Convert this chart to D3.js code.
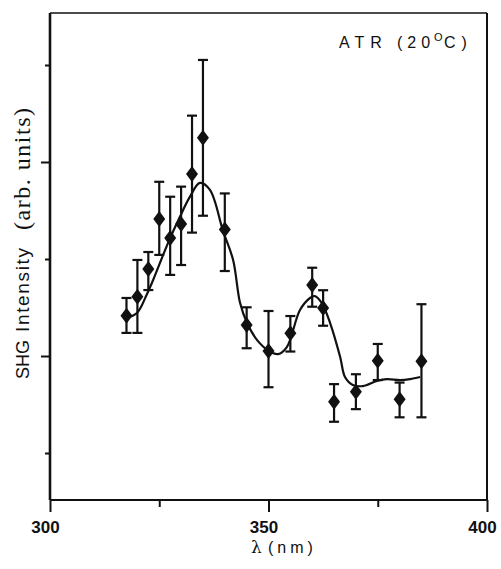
<!DOCTYPE html>
<html><head><meta charset="utf-8">
<script src="https://cdn.jsdelivr.net/npm/d3@7"></script>
<style>body{margin:0;background:#fff}svg{display:block}</style>
</head><body>
<div id="chart"></div>
<script>
// Measured data: wavelength (nm), SHG intensity (arb. units), error bar low/high
const wavelengths = [317.5,320,322.5,325,327.5,330,332.5,335,340,345,350,355,360,362.5,365,370,375,380,385];
const intensity   = [1.208,1.306,1.448,1.706,1.608,1.680,1.938,2.125,1.652,1.160,1.026,1.117,1.366,1.248,0.764,0.816,0.975,0.777,0.973];
const errLow      = [1.119,1.119,1.340,1.521,1.418,1.469,1.636,1.723,1.438,1.040,0.839,1.023,1.254,1.156,0.661,0.726,0.876,0.684,0.684];
const errHigh     = [1.299,1.495,1.536,1.898,1.821,1.873,2.239,2.526,1.838,1.251,1.232,1.206,1.455,1.339,0.855,0.906,1.062,0.863,1.267];
// Fitted curve
const fitX = [317.4,319.9,322.2,323.6,327.0,329.7,332.0,334.3,336.6,339.6,341.9,343.5,345.1,347.4,350.1,352.2,354.2,357.2,359.5,360.6,362.2,364.1,366.4,367.5,369.3,371.6,374.8,377.1,380.1,382.4,384.7];
const fitY = [1.196,1.222,1.320,1.392,1.582,1.716,1.820,1.892,1.856,1.644,1.495,1.273,1.170,1.082,1.026,1.010,1.046,1.237,1.299,1.309,1.273,1.170,0.995,0.892,0.851,0.845,0.871,0.881,0.876,0.881,0.892];
// Axis ticks
const xMajorTicks = [300,350,400];
const xMinorTicks = [325,375];
const yMajorTicks = [1,2];
const yMinorTicks = [0.5,1.5,2.5];

const W = 501, H = 569;
const L = 50, R = 487, T = 13, B = 500;
const svg = d3.select("#chart").append("svg").attr("width",W).attr("height",H);

const x = d3.scaleLinear().domain([300,400]).range([L,R]);
const y = d3.scaleLinear().domain([1,2]).range([356,162]);

const ink = "#111";
const sans = "'Liberation Sans', Arial, Helvetica, sans-serif";
const serif = "'Liberation Serif', 'Times New Roman', serif";

// frame
svg.append("line").attr("x1",L).attr("x2",R).attr("y1",T).attr("y2",T).attr("stroke",ink).attr("stroke-width",1.6);
svg.append("line").attr("x1",R).attr("x2",R).attr("y1",T).attr("y2",B).attr("stroke",ink).attr("stroke-width",2);

// axes
const gx = svg.append("g").attr("transform",`translate(0,${B})`);
gx.call(d3.axisBottom(x).tickValues(xMajorTicks).tickSize(12).tickFormat(d3.format("d")));
const gx2 = svg.append("g").attr("transform",`translate(0,${B})`);
gx2.call(d3.axisBottom(x).tickValues(xMinorTicks).tickSize(7).tickFormat(""));
const gy = svg.append("g").attr("transform",`translate(${L},0)`);
gy.call(d3.axisLeft(y).tickValues(yMajorTicks).tickSize(9).tickFormat(""));
const gy2 = svg.append("g").attr("transform",`translate(${L},0)`);
gy2.call(d3.axisLeft(y).tickValues(yMinorTicks).tickSize(5).tickFormat(""));
[gx,gx2,gy,gy2].forEach(g=>{
  g.select(".domain").remove();
  g.selectAll(".tick line").attr("stroke",ink).attr("stroke-width",2);
});
gx.selectAll(".tick text").attr("font-family",sans)
  .attr("font-size",17).attr("font-weight","bold").attr("fill",ink)
  .attr("y",33).attr("dy",0).attr("dx",-5);
svg.append("line").attr("x1",L).attr("x2",R).attr("y1",B).attr("y2",B).attr("stroke",ink).attr("stroke-width",2.2);
svg.append("line").attr("x1",L).attr("x2",L).attr("y1",T).attr("y2",B).attr("stroke",ink).attr("stroke-width",2.6);

// fit curve
const pts = fitX.map((d,i)=>[d,fitY[i]]);
svg.append("path").datum(pts)
  .attr("d", d3.line().x(d=>x(d[0])).y(d=>y(d[1])).curve(d3.curveCatmullRom.alpha(0.5)))
  .attr("fill","none").attr("stroke",ink).attr("stroke-width",2.2);

// error bars
const data = wavelengths.map((w,i)=>({w, v:intensity[i], lo:errLow[i], hi:errHigh[i]}));
const eb = svg.append("g").attr("stroke",ink).attr("stroke-width",2.2);
data.forEach(d=>{
  eb.append("line").attr("x1",x(d.w)).attr("x2",x(d.w)).attr("y1",y(d.lo)).attr("y2",y(d.hi));
  eb.append("line").attr("x1",x(d.w)-5).attr("x2",x(d.w)+5).attr("y1",y(d.lo)).attr("y2",y(d.lo));
  eb.append("line").attr("x1",x(d.w)-5).attr("x2",x(d.w)+5).attr("y1",y(d.hi)).attr("y2",y(d.hi));
});
// diamonds
svg.append("g").selectAll("path").data(data).join("path")
  .attr("d", d=>{const cx=x(d.w), cy=y(d.v), a=6, b=8; return `M${cx},${cy-b}L${cx+a},${cy}L${cx},${cy+b}L${cx-a},${cy}Z`;})
  .attr("fill",ink);

// annotation
const annG = svg.append("g").attr("font-family",sans).attr("fill",ink);
annG.append("text").attr("x",339).attr("y",48).attr("font-size",16).attr("letter-spacing","6px").text("ATR");
annG.append("text").attr("x",397).attr("y",48).attr("font-size",16).attr("letter-spacing","5px").text("(20");
annG.append("text").attr("x",434).attr("y",41).attr("font-size",11).text("O");
annG.append("text").attr("x",444).attr("y",48).attr("font-size",16).attr("letter-spacing","6px").text("C)");

// y label (rotated)
const ylab = svg.append("g").attr("transform","rotate(-90)").attr("fill",ink);
ylab.append("text").attr("x",-379).attr("y",29).attr("font-family",sans).attr("font-size",18).text("SHG");
ylab.append("text").attr("x",-332).attr("y",29).attr("font-family",sans).attr("font-size",19)
  .attr("textLength",84).attr("lengthAdjust","spacing").text("Intensity");
ylab.append("text").attr("x",-230).attr("y",30).attr("font-family",serif).attr("font-size",24)
  .attr("textLength",122).attr("lengthAdjust","spacing").text("(arb.  units)");

// x label
const xl = svg.append("text").attr("y",553).attr("fill",ink);
xl.append("tspan").attr("x",251).attr("font-family","'DejaVu Serif', serif").attr("font-size",17).text("λ");
xl.append("tspan").attr("x",268).attr("font-family",sans).attr("font-size",16).attr("letter-spacing","4px").text("(nm)");
</script>
</body></html>
